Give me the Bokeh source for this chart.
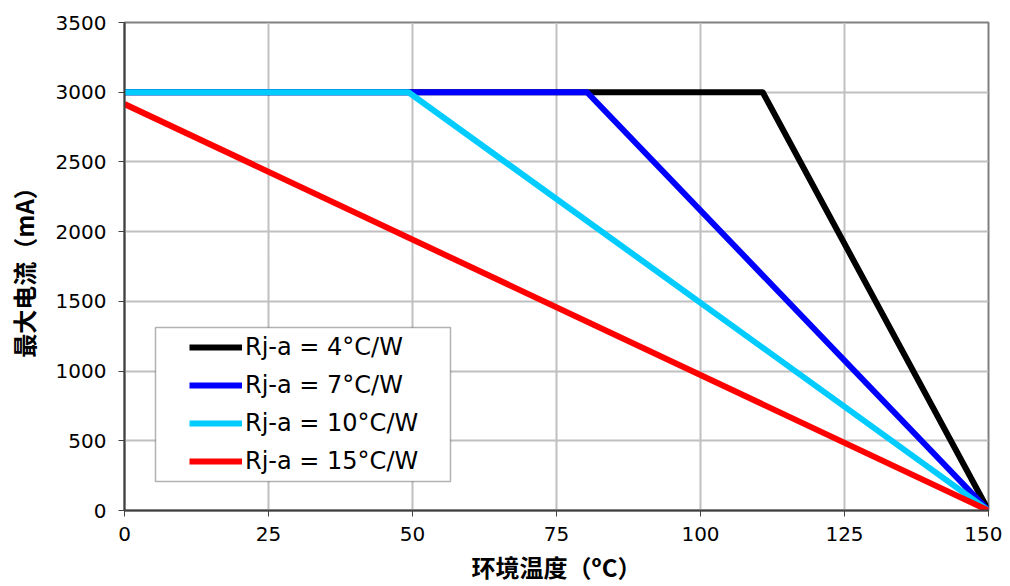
from bokeh.plotting import figure
from bokeh.models import Range1d, FixedTicker, Legend, LegendItem, BoxAnnotation
from bokeh.embed import file_html
from bokeh.resources import INLINE

# Data
x_ticks = [0, 25, 50, 75, 100, 125, 150]
y_ticks = [0, 500, 1000, 1500, 2000, 2500, 3000, 3500]

x_4 = [0, 110.8, 150]
y_4 = [3000, 3000, 0]
x_7 = [0, 80.3, 150]
y_7 = [3000, 3000, 0]
x_10 = [0, 49.3, 150]
y_10 = [3000, 3000, 0]
x_15 = [0, 150]
y_15 = [2915, 0]

labels = ["Rj-a = 4°C/W", "Rj-a = 7°C/W", "Rj-a = 10°C/W", "Rj-a = 15°C/W"]
colors = ["#000000", "#0000FF", "#00CCFF", "#FF0000"]

FW, FH = 864, 488
X0, X1, Y0, Y1 = 0, 150, 0, 3500

p = figure(frame_width=FW, frame_height=FH,
           x_range=Range1d(X0, X1), y_range=Range1d(Y0, Y1),
           output_backend="svg", toolbar_location=None,
           min_border_left=124, min_border_right=14,
           min_border_top=22, min_border_bottom=68)

p.outline_line_color = "#808080"
p.outline_line_width = 2

for ax in (p.xaxis[0], p.yaxis[0]):
    ax.axis_line_color = "#404040"
    ax.axis_line_width = 2
    ax.major_tick_line_color = "#404040"
    ax.major_tick_line_width = 1
    ax.major_tick_in = 0
    ax.major_tick_out = 6
    ax.minor_tick_line_color = None
    ax.major_label_text_font = "DejaVu Sans"
    ax.major_label_text_font_size = "20px"
    ax.major_label_text_color = "#000000"
    ax.axis_label_text_font = "Noto Sans CJK SC"
    ax.axis_label_text_font_size = "24px"
    ax.axis_label_text_font_style = "bold"
    ax.axis_label_text_color = "#000000"

p.xaxis.ticker = FixedTicker(ticks=x_ticks)
p.yaxis.ticker = FixedTicker(ticks=y_ticks)
p.xaxis.axis_label = "环境温度（ºC）"
p.yaxis.axis_label = "最大电流（mA）"
p.xaxis.major_label_standoff = 10
p.yaxis.major_label_standoff = 12
p.xaxis.axis_label_standoff = 5
p.yaxis.axis_label_standoff = 12

p.xgrid.ticker = FixedTicker(ticks=x_ticks)
p.ygrid.ticker = FixedTicker(ticks=y_ticks)
p.grid.grid_line_color = "#C0C0C0"
p.grid.grid_line_width = 2

series = [(x_4, y_4), (x_7, y_7), (x_10, y_10), (x_15, y_15)]
renderers = []
for (xs, ys), c in zip(series, colors):
    r = p.line(xs, ys, line_color=c, line_width=6, line_join="round")
    renderers.append(r)

# legend frame (pixel offsets from frame's bottom-left, converted to data units)
def px_x(px):
    return X0 + px / FW * (X1 - X0)

def px_y(px):
    return Y0 + px / FH * (Y1 - Y0)

frame_box = BoxAnnotation(left=px_x(31), right=px_x(326), bottom=px_y(29), top=px_y(183),
                          fill_color="#FFFFFF", fill_alpha=1,
                          line_color="#000000", line_width=1.5)
p.add_layout(frame_box)

legend = Legend(items=[LegendItem(label=l, renderers=[r]) for l, r in zip(labels, renderers)],
                location=(65, 35))
legend.label_text_font = "DejaVu Sans"
legend.label_text_font_size = "24px"
legend.label_text_color = "#000000"
legend.glyph_width = 53
legend.glyph_height = 24
legend.label_height = 24
legend.label_standoff = 3
legend.spacing = 10
legend.padding = 8
legend.margin = 0
legend.border_line_color = None
legend.background_fill_alpha = 0
p.add_layout(legend, "center")

open("out.html", "w").write(file_html(p, INLINE))
